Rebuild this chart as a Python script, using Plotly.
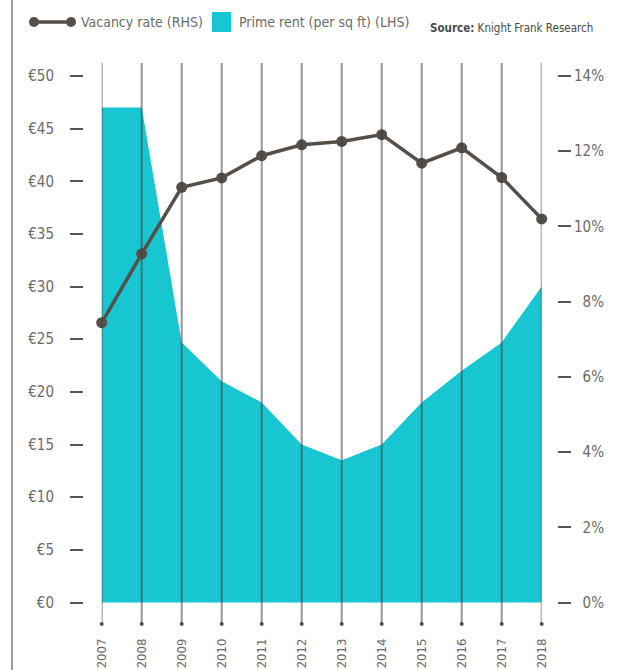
import plotly.graph_objects as go

# Office market data
years = [2007, 2008, 2009, 2010, 2011, 2012, 2013, 2014, 2015, 2016, 2017, 2018]
prime_rent = [47, 47, 24.7, 21, 19, 15, 13.5, 15, 19, 22, 24.7, 30]          # € per sq ft (LHS)
vacancy_rate = [7.44, 9.27, 11.04, 11.29, 11.88, 12.17, 12.26, 12.44, 11.68, 12.09, 11.30, 10.20]  # % (RHS)

rent_ticks = [0, 5, 10, 15, 20, 25, 30, 35, 40, 45, 50]
rent_labels = ["€%d" % v for v in rent_ticks]
vac_ticks = [0, 2, 4, 6, 8, 10, 12, 14]
vac_labels = [("\u2007%d%%" % v) if v < 10 else ("%d%%" % v) for v in vac_ticks]

FONT = "DejaVu Sans Condensed, Liberation Sans Narrow, Roboto, sans-serif"
CYAN = "#17C6D1"
DARK = "#554e49"
TEXT = "#6a6a6a"

W_PX, H_PX = 637, 670
L, R, T, B = 83, 80, 63, 46
plot_w = W_PX - L - R
plot_h = H_PX - T - B


def px_x(px):
    return (px - L) / plot_w


def px_y(py):
    return (H_PX - B - py) / plot_h


rent_range = [-2.04, 51.23]
vac_range = [v * 0.28 for v in rent_range]

fig = go.Figure()

fig.add_trace(go.Scatter(
    x=years, y=prime_rent, mode="lines", fill="tozeroy",
    fillcolor=CYAN, line=dict(width=0, color=CYAN),
    yaxis="y", hoverinfo="skip", showlegend=False,
))

fig.add_trace(go.Scatter(
    x=years, y=vacancy_rate, mode="lines+markers",
    line=dict(color=DARK, width=3.5),
    marker=dict(color=DARK, size=11),
    yaxis="y2", showlegend=False, cliponaxis=False,
))

# small dots at the foot of each year line
fig.add_trace(go.Scatter(
    x=years, y=[rent_range[0]] * len(years), mode="markers",
    marker=dict(color="#555555", size=4), yaxis="y",
    showlegend=False, cliponaxis=False, hoverinfo="skip",
))

shapes = []
for yr in years:
    shapes.append(dict(type="line", xref="x", yref="paper", x0=yr, x1=yr, y0=0, y1=1,
                       line=dict(color="rgba(60,60,60,0.55)", width=2), layer="above"))

# page border on the left
shapes.append(dict(type="line", xref="paper", yref="paper",
                   x0=px_x(12), x1=px_x(12), y0=px_y(0), y1=px_y(H_PX),
                   line=dict(color="#777777", width=1.5)))

# legend: vacancy line symbol
shapes.append(dict(type="line", xref="paper", yref="paper",
                   x0=px_x(34), x1=px_x(71), y0=px_y(22), y1=px_y(22),
                   line=dict(color=DARK, width=3.5)))
for cx in (34, 71):
    shapes.append(dict(type="circle", xref="paper", yref="paper",
                       x0=px_x(cx - 5), x1=px_x(cx + 5), y0=px_y(17), y1=px_y(27),
                       fillcolor=DARK, line=dict(width=0)))
# legend: rent swatch
shapes.append(dict(type="rect", xref="paper", yref="paper",
                   x0=px_x(212), x1=px_x(231), y0=px_y(12), y1=px_y(32),
                   fillcolor=CYAN, line=dict(width=0)))

annotations = [
    dict(text="Vacancy rate (RHS)", xref="paper", yref="paper", x=px_x(79), y=px_y(22),
         xanchor="left", yanchor="middle", showarrow=False,
         font=dict(family=FONT, size=14, color=TEXT)),
    dict(text="Prime rent (per sq ft) (LHS)", xref="paper", yref="paper", x=px_x(237), y=px_y(22),
         xanchor="left", yanchor="middle", showarrow=False,
         font=dict(family=FONT, size=14, color=TEXT)),
    dict(text="<b>Source:</b> Knight Frank Research", xref="paper", yref="paper",
         x=px_x(595), y=px_y(28), xanchor="right", yanchor="middle", showarrow=False,
         font=dict(family=FONT, size=11.5, color="#4a4a4a")),
]

fig.update_layout(
    width=W_PX, height=H_PX, autosize=False,
    margin=dict(l=L, r=R, t=T, b=B, pad=0, autoexpand=False),
    paper_bgcolor="white", plot_bgcolor="white",
    font=dict(family=FONT, color=TEXT),
    showlegend=False,
    xaxis=dict(
        domain=[px_x(101.7), px_x(541.7)], range=[2007, 2018],
        tickvals=years, ticktext=[str(y) for y in years], tickangle=-90,
        showgrid=False, zeroline=False, showline=False, ticks="",
        tickfont=dict(family=FONT, size=13, color=TEXT), ticklabelstandoff=11,
        automargin=False, fixedrange=True,
    ),
    yaxis=dict(
        range=rent_range, anchor="free", position=0, side="left",
        tickvals=rent_ticks, ticktext=rent_labels,
        ticks="outside", ticklen=13, tickwidth=1.5, tickcolor="#555555",
        showgrid=False, zeroline=False, showline=False, automargin=False,
        tickfont=dict(family=FONT, size=15, color=TEXT), ticklabelstandoff=13,
    ),
    yaxis2=dict(
        range=vac_range, overlaying="y", anchor="free", position=1, side="right",
        tickvals=vac_ticks, ticktext=vac_labels,
        ticks="outside", ticklen=13, tickwidth=1.5, tickcolor="#555555",
        showgrid=False, zeroline=False, showline=False, automargin=False,
        tickfont=dict(family=FONT, size=15, color=TEXT),
    ),
    shapes=shapes,
    annotations=annotations,
)

fig.write_html("out.html")
